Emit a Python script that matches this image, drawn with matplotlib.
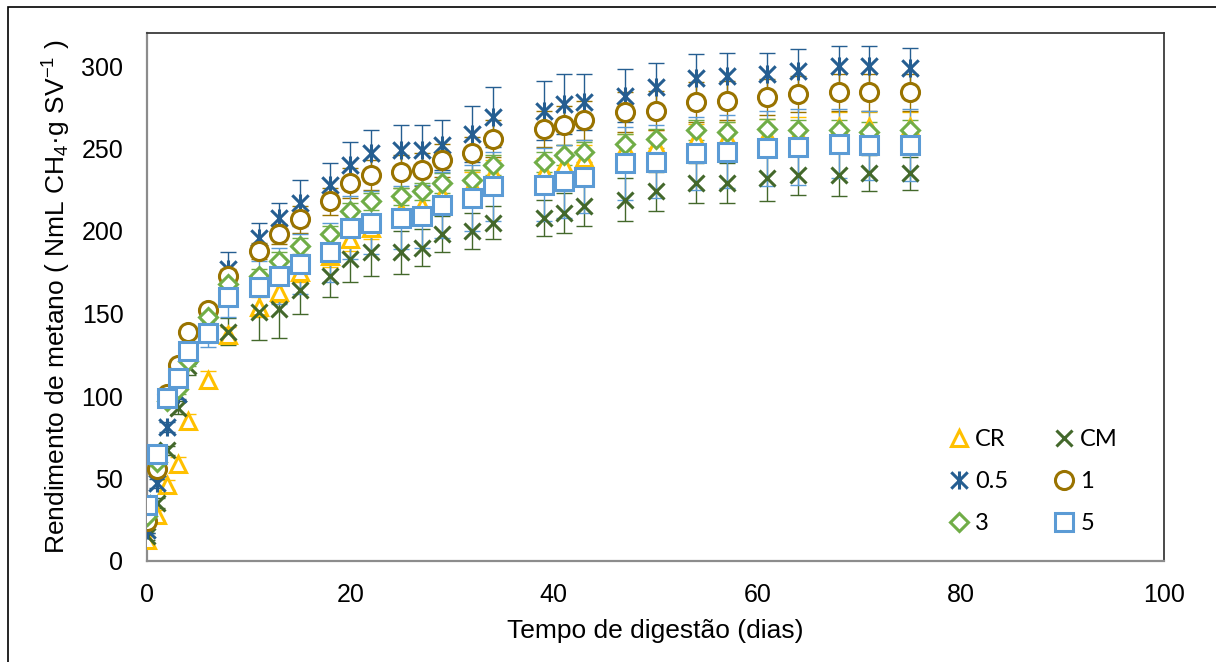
import numpy as np
import matplotlib
matplotlib.use("Agg")
import matplotlib.pyplot as plt
from matplotlib.path import Path
from matplotlib.patches import Rectangle

plt.rcParams['font.family'] = ['Liberation Sans', 'DejaVu Sans']
plt.rcParams['mathtext.default'] = 'regular'

# =====================================================
# DATA
# =====================================================

days = [0, 1, 2, 3, 4, 6, 8, 11, 13, 15, 18, 20, 22, 25, 27, 29, 32, 34,
        39, 41, 43, 47, 50, 54, 57, 61, 64, 68, 71, 75]

cr = [13, 28, 46, 59, 85, 110, 137, 154, 163, 175, 185, 195, 202, 212, 215,
      222, 228, 235, 236, 240, 244, 250, 252, 256, 257, 258, 259, 263, 263, 263]
cr_err = [2, 3, 3, 4, 4, 5, 5, 6, 6, 6, 7, 7, 7, 7, 8, 8, 8, 8, 8, 8, 8, 9,
          9, 9, 9, 10, 10, 9, 9, 9]

cm = [15, 35, 67, 93, 118, 146, 139, 151, 153, 164, 173, 183, 187, 187, 190,
      198, 200, 205, 208, 211, 215, 219, 224, 229, 229, 232, 234, 234, 235, 235]
cm_err = [2, 3, 3, 4, 5, 6, 8, 17, 18, 14, 13, 14, 14, 13, 11, 11, 11, 10,
          11, 12, 12, 13, 12, 12, 12, 14, 12, 13, 11, 10]

s05 = [19, 47, 81, 101, 124, 147, 177, 196, 208, 217, 228, 240, 247, 249, 249,
       252, 259, 269, 273, 277, 278, 282, 287, 293, 294, 295, 297, 300, 300, 299]
s05_err = [2, 3, 3, 3, 4, 4, 10, 9, 9, 14, 13, 14, 14, 15, 15, 15, 17, 18,
           18, 18, 17, 16, 15, 14, 14, 13, 13, 12, 12, 12]

s1 = [24, 56, 101, 119, 139, 152, 173, 188, 198, 207, 218, 229, 234, 236, 237,
      243, 247, 256, 262, 264, 267, 272, 273, 278, 279, 281, 283, 284, 284, 284]
s1_err = [2, 3, 3, 3, 3, 3, 4, 5, 6, 8, 8, 9, 9, 10, 10, 10, 10, 11, 11, 12,
          12, 12, 12, 12, 12, 11, 11, 11, 11, 11]

s3 = [27, 60, 97, 104, 121, 148, 168, 173, 182, 191, 198, 212, 218, 221, 224,
      229, 231, 240, 242, 246, 248, 253, 256, 261, 260, 262, 261, 261, 260, 261]
s3_err = [2, 2, 3, 3, 3, 4, 4, 4, 5, 5, 5, 5, 5, 5, 5, 6, 6, 6, 6, 6, 6, 6,
          6, 6, 6, 6, 6, 6, 6, 6]

s5 = [34, 65, 99, 111, 127, 138, 160, 166, 173, 180, 187, 202, 205, 208, 209,
      216, 220, 227, 228, 230, 233, 241, 242, 247, 248, 250, 251, 253, 252, 252]
s5_err = [2, 3, 4, 5, 6, 8, 12, 16, 17, 18, 18, 19, 19, 19, 19, 20, 20, 21,
          22, 22, 22, 22, 22, 22, 22, 23, 23, 21, 21, 22]

# =====================================================
# STYLE
# =====================================================

# Excel-like asterisk: an X with a vertical stroke
star = Path([(-1, -1), (1, 1), (-1, 1), (1, -1), (0, -1.1), (0, 1.1)],
            [Path.MOVETO, Path.LINETO] * 3)

series = [
    ("CR", cr, cr_err, "^", "#FFC000", 12),
    ("CM", cm, cm_err, "x", "#43682B", 11),
    ("0.5", s05, s05_err, star, "#255E91", 13),
    ("1", s1, s1_err, "o", "#997300", 13),
    ("3", s3, s3_err, "D", "#70AD47", 9),
    ("5", s5, s5_err, "s", "#5B9BD5", 12.5),
]

# =====================================================
# PLOT
# =====================================================

fig = plt.figure(figsize=(12.16, 6.62), dpi=100)
ax = fig.add_axes([147 / 1216, 1 - 561 / 662, (1164 - 147) / 1216, (561 - 33) / 662])

handles = {}
for i, (name, vals, err, mk, col, ms) in enumerate(series):
    # error bars sit under every marker
    ax.errorbar(days, vals, yerr=err, fmt='none', ecolor=col, elinewidth=1,
                capsize=6, capthick=1, zorder=2)
    face = 'none' if mk is star else 'white'
    h, = ax.plot(days, vals, linestyle='none', marker=mk, markersize=ms,
                 markerfacecolor=face, markeredgecolor=col,
                 markeredgewidth=2.2, zorder=3 + i, label=name)
    handles[name] = h

ax.set_xlim(0, 100)
ax.set_ylim(0, 320)
ax.set_xticks(np.arange(0, 101, 20))
ax.set_yticks(np.arange(0, 301, 50))
ax.tick_params(axis='both', length=0, labelsize=18)
ax.tick_params(axis='y', pad=17)
ax.tick_params(axis='x', pad=16)

for side in ['left', 'bottom']:
    ax.spines[side].set_color('#8C8C8C')
    ax.spines[side].set_linewidth(1.6)
for side in ['top', 'right']:
    ax.spines[side].set_color('#3A3A3A')
    ax.spines[side].set_linewidth(1.3)

ax.set_xlabel("Tempo de digestão (dias)", fontsize=19, va='center')
ax.xaxis.set_label_coords(0.5, (561 - 631) / 528)
ax.set_ylabel("Rendimento de metano ( NmL CH$_4$·g SV$^{-1}$ )",
              fontsize=19, va='center', ha='center')
ax.yaxis.set_label_coords((57 - 147) / 1017, 0.5)

order = ["CR", "0.5", "3", "CM", "1", "5"]
ax.legend([handles[k] for k in order], order, ncol=2, frameon=False,
          loc='upper left', bbox_to_anchor=(948 / 1216, 1 - 429 / 662),
          bbox_transform=fig.transFigure, borderpad=0, borderaxespad=0,
          handlelength=0.9, handletextpad=0.25, columnspacing=1.9,
          labelspacing=0.9, prop={'family': 'Lato', 'size': 17})

# outer chart border
fig.add_artist(Rectangle((8 / 1216, -0.1), 1.2, 1.1 - 7 / 662,
                         transform=fig.transFigure, fill=False,
                         edgecolor='black', linewidth=1.2))

plt.savefig("out.png", dpi=100)
print("out.png saved")
